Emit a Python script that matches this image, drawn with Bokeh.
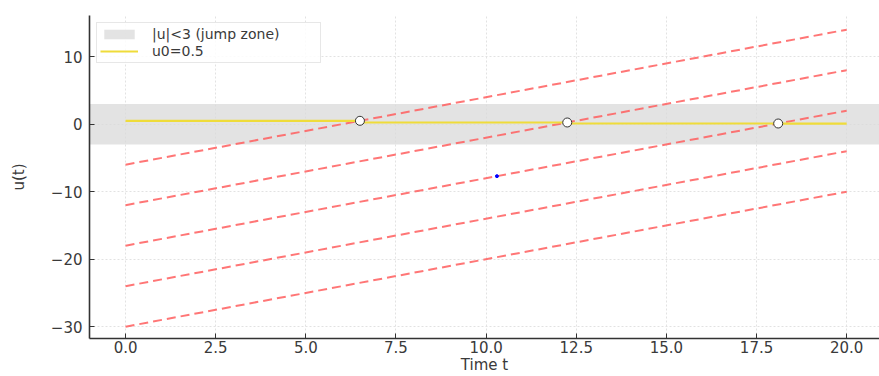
from bokeh.plotting import figure
from bokeh.models import FixedTicker, CustomJSTickFormatter, Legend, LegendItem
from bokeh.embed import file_html
from bokeh.resources import INLINE

# ---- data ----
t_start = [0, 0, 0, 0, 0]
t_end = [20, 20, 20, 20, 20]
line_u_start = [-6, -12, -18, -24, -30]
line_u_end = [14, 8, 2, -4, -10]

u0_t = [0, 6.5, 6.5, 12.25, 12.25, 18.1, 18.1, 20]
u0_vals = [0.5, 0.5, 0.25, 0.25, 0.1, 0.1, 0.08, 0.08]

jump_t = [6.5, 12.25, 18.1]
jump_u = [0.5, 0.25, 0.1]

blue_t = [10.3]
blue_u = [-7.7]

jump_threshold = 3
band_t = [-1, 21]

x_ticks = [0, 2.5, 5, 7.5, 10, 12.5, 15, 17.5, 20]
y_ticks = [-30, -20, -10, 0, 10]

FONT = "DejaVu Sans"
TXT = "#3a3a3a"

p = figure(width=879, height=376, output_backend="svg", toolbar_location=None,
           x_range=(-1, 20.91), y_range=(-31.75, 16.1),
           min_border_left=89, min_border_right=0, min_border_top=15, min_border_bottom=35)
p.outline_line_color = None
p.background_fill_color = "white"

band = p.varea(x=band_t, y1=[-jump_threshold] * 2, y2=[jump_threshold] * 2,
               fill_color="#d9d9d9", fill_alpha=0.75)

for i in range(len(line_u_start)):
    p.line([t_start[i], t_end[i]], [line_u_start[i], line_u_end[i]],
           line_color="#ff5e5e", line_alpha=0.85, line_width=2, line_dash="9 5")

yl = p.line(u0_t, u0_vals, line_color="#efdc3a", line_width=2.2)

p.scatter(jump_t, jump_u, size=9, fill_color="white", line_color="#333333", line_width=1)
p.scatter(blue_t, blue_u, size=3, fill_color="blue", line_color="blue")

legend = Legend(items=[LegendItem(label="|u|<3 (jump zone)", renderers=[band]),
                       LegendItem(label="u0=0.5", renderers=[yl])],
                location="top_left")
legend.label_text_font = FONT
legend.label_text_font_size = "14px"
legend.label_text_color = TXT
legend.label_width = 165
legend.glyph_width = 38
legend.glyph_height = 12
legend.spacing = 1
legend.padding = 3
legend.margin = 7
legend.label_standoff = 14
legend.border_line_color = "#d0d0d0"
legend.border_line_width = 1.5
legend.background_fill_alpha = 0.85
p.add_layout(legend)

p.xaxis.ticker = FixedTicker(ticks=x_ticks)
p.yaxis.ticker = FixedTicker(ticks=y_ticks)
p.xaxis.formatter = CustomJSTickFormatter(code="return tick.toFixed(1);")
p.yaxis.formatter = CustomJSTickFormatter(code="return tick < 0 ? '\u2212' + Math.abs(tick).toFixed(0) : tick.toFixed(0);")

for ax in (p.xaxis, p.yaxis):
    ax.major_tick_in = 5
    ax.major_tick_out = 0
    ax.minor_tick_in = 0
    ax.minor_tick_out = 0
    ax.axis_line_color = "#333333"
    ax.axis_line_width = 1.6
    ax.major_tick_line_color = "#333333"
    ax.major_label_text_font = FONT
    ax.major_label_text_font_size = "15px"
    ax.major_label_text_color = TXT
    ax.axis_label_text_font = FONT
    ax.axis_label_text_font_size = "15px"
    ax.axis_label_text_font_style = "normal"
    ax.axis_label_text_color = TXT

p.xaxis.axis_label = "Time t"
p.yaxis.axis_label = "u(t)"
p.xaxis.axis_label_standoff = 0
p.xaxis.major_label_standoff = 2
p.yaxis.major_label_standoff = 7
p.yaxis.axis_label_standoff = 20

p.grid.grid_line_color = "#e2e2e2"
p.grid.grid_line_dash = "2 2"
p.grid.grid_line_width = 1

open("out.html", "w").write(file_html(p, INLINE))
